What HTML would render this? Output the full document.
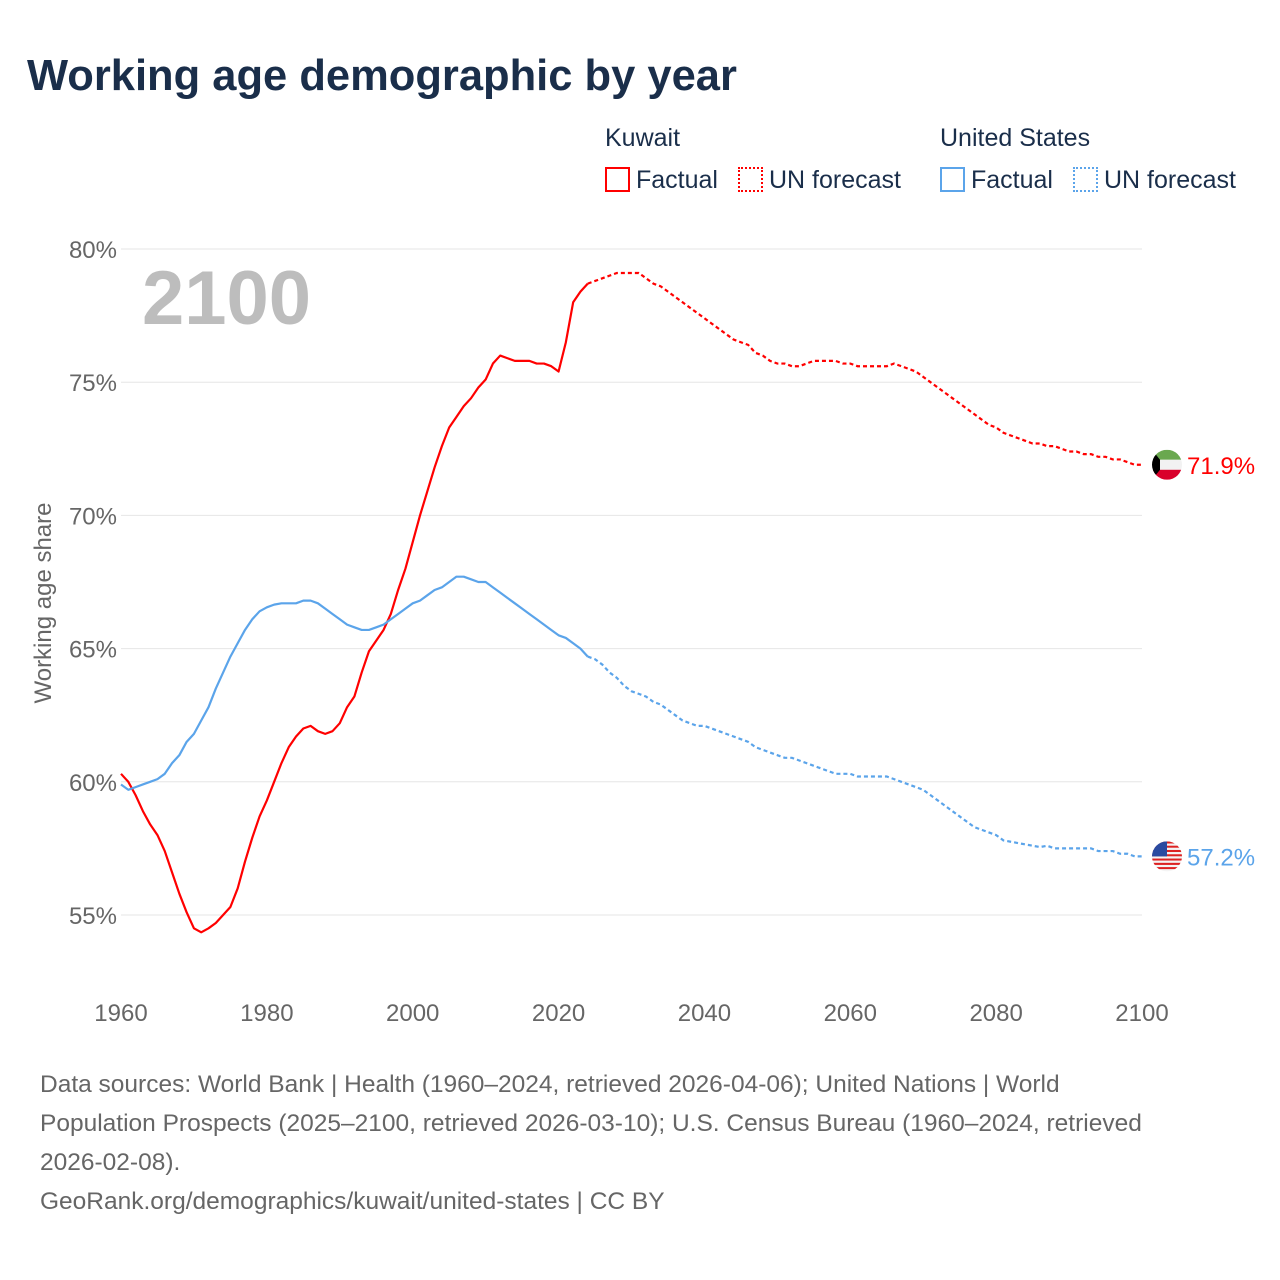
<!DOCTYPE html>
<html><head><meta charset="utf-8"><style>
body{margin:0;background:#fff;font-family:"Liberation Sans",sans-serif;}
#wrap{position:relative;width:1280px;height:1280px;overflow:hidden;}
.t{position:absolute;white-space:nowrap;}
</style></head><body>
<div id="wrap">
<div class="t" style="left:27px;top:52px;font-size:43.5px;font-weight:bold;color:#1a2e4a;">Working age demographic by year</div>
<div class="t" style="left:605px;top:124px;font-size:25px;color:#1a2e4a;">Kuwait</div>
<div class="t" style="left:940px;top:124px;font-size:25px;color:#1a2e4a;">United States</div>
<div class="t" style="left:605px;top:166px;font-size:25px;color:#1a2e4a;"><span style="display:inline-block;width:21px;height:21px;border:2px solid #f00;vertical-align:-4px;margin-right:6px"></span>Factual</div>
<div class="t" style="left:738px;top:166px;font-size:25px;color:#1a2e4a;"><span style="display:inline-block;width:21px;height:21px;border:2px dotted #f00;vertical-align:-4px;margin-right:6px"></span>UN forecast</div>
<div class="t" style="left:940px;top:166px;font-size:25px;color:#1a2e4a;"><span style="display:inline-block;width:21px;height:21px;border:2px solid #5ba4ea;vertical-align:-4px;margin-right:6px"></span>Factual</div>
<div class="t" style="left:1073px;top:166px;font-size:25px;color:#1a2e4a;"><span style="display:inline-block;width:21px;height:21px;border:2px dotted #5ba4ea;vertical-align:-4px;margin-right:6px"></span>UN forecast</div>
<svg id="chart" width="1280" height="1280" style="position:absolute;left:0;top:0"></svg>
<div class="t" style="left:40px;top:1065px;font-size:24.5px;line-height:39px;color:#666;">Data sources: World Bank | Health (1960–2024, retrieved 2026-04-06); United Nations | World<br>Population Prospects (2025–2100, retrieved 2026-03-10); U.S. Census Bureau (1960–2024, retrieved<br>2026-02-08).<br>GeoRank.org/demographics/kuwait/united-states | CC BY</div>
</div>
<script>
const yTicks=[55,60,65,70,75,80];
const xTicks=[1960,1980,2000,2020,2040,2060,2080,2100];
const startYear=1960;
const kuwait=[60.3,60.0,59.5,58.9,58.4,58.0,57.4,56.6,55.8,55.1,54.5,54.35,54.5,54.7,55.0,55.3,56.0,57.0,57.9,58.7,59.3,60.0,60.7,61.3,61.7,62.0,62.1,61.9,61.8,61.9,62.2,62.8,63.2,64.1,64.9,65.3,65.7,66.3,67.2,68.0,69.0,70.0,70.9,71.8,72.6,73.3,73.7,74.1,74.4,74.8,75.1,75.7,76.0,75.9,75.8,75.8,75.8,75.7,75.7,75.6,75.4,76.5,78.0,78.4,78.7,
78.8,78.9,79.0,79.1,79.1,79.1,79.1,78.9,78.7,78.6,78.4,78.2,78.0,77.8,77.6,77.4,77.2,77.0,76.8,76.6,76.5,76.4,76.1,76.0,75.8,75.7,75.7,75.6,75.6,75.7,75.8,75.8,75.8,75.8,75.7,75.7,75.6,75.6,75.6,75.6,75.6,75.7,75.6,75.5,75.4,75.2,75.0,74.8,74.6,74.4,74.2,74.0,73.8,73.6,73.4,73.3,73.1,73.0,72.9,72.8,72.7,72.7,72.6,72.6,72.5,72.4,72.4,72.3,72.3,72.2,72.2,72.1,72.1,72.0,71.9,71.9];
const us=[59.9,59.7,59.8,59.9,60.0,60.1,60.3,60.7,61.0,61.5,61.8,62.3,62.8,63.5,64.1,64.7,65.2,65.7,66.1,66.4,66.55,66.65,66.7,66.7,66.7,66.8,66.8,66.7,66.5,66.3,66.1,65.9,65.8,65.7,65.7,65.8,65.9,66.1,66.3,66.5,66.7,66.8,67.0,67.2,67.3,67.5,67.7,67.7,67.6,67.5,67.5,67.3,67.1,66.9,66.7,66.5,66.3,66.1,65.9,65.7,65.5,65.4,65.2,65.0,64.7,
64.6,64.4,64.1,63.9,63.6,63.4,63.3,63.2,63.0,62.9,62.7,62.5,62.3,62.2,62.1,62.1,62.0,61.9,61.8,61.7,61.6,61.5,61.3,61.2,61.1,61.0,60.9,60.9,60.8,60.7,60.6,60.5,60.4,60.3,60.3,60.3,60.2,60.2,60.2,60.2,60.2,60.1,60.0,59.9,59.8,59.7,59.5,59.3,59.1,58.9,58.7,58.5,58.3,58.2,58.1,58.0,57.8,57.75,57.7,57.65,57.6,57.55,57.6,57.5,57.5,57.5,57.5,57.5,57.5,57.4,57.4,57.4,57.3,57.3,57.2,57.2];
const lastFactualYear=2024;
const NS="http://www.w3.org/2000/svg";
const svg=document.getElementById('chart');
const X=y=>121+(y-1960)*(1021/140);
const Y=v=>915-(v-55)*(666/25);
function el(tag,attrs,parent){const e=document.createElementNS(NS,tag);for(const k in attrs)e.setAttribute(k,attrs[k]);(parent||svg).appendChild(e);return e;}
yTicks.forEach(v=>{
  const g=el('line',{x1:121,x2:1142,y1:Y(v),y2:Y(v),stroke:'#e6e6e6','stroke-width':1});
  
  
  const t=el('text',{x:117,y:Y(v)+9,'text-anchor':'end','font-size':24,fill:'#666','font-family':'Liberation Sans, sans-serif'});
  t.textContent=v+'%';
  
  
});
xTicks.forEach(v=>{
  const t=el('text',{x:X(v),y:1021,'text-anchor':'middle','font-size':24,fill:'#666','font-family':'Liberation Sans, sans-serif'});
  t.textContent=v;
  
  
});
const yt=el('text',{x:0,y:0,transform:'translate(51,603) rotate(-90)','text-anchor':'middle','font-size':24,fill:'#666','font-family':'Liberation Sans, sans-serif'});
yt.textContent='Working age share';


const big=el('text',{x:142,y:324,'font-size':76,'font-weight':'bold',fill:'#bdbdbd','font-family':'Liberation Sans, sans-serif'});
big.textContent='2100';


function draw(data,color,name){
  const n=lastFactualYear-startYear;
  const f=data.slice(0,n+1).map((v,i)=>X(startYear+i)+','+Y(v)).join(' ');
  const p=data.slice(n).map((v,i)=>X(lastFactualYear+i)+','+Y(v)).join(' ');
  const a=el('polyline',{points:f,fill:'none',stroke:color,'stroke-width':2.2,'stroke-linejoin':'round'});
  
  
  const b=el('polyline',{points:p,fill:'none',stroke:color,'stroke-width':2.2,'stroke-dasharray':'4,3'});
  
  
}
draw(kuwait,'#ff0000','kuwait');
draw(us,'#5ba4ea','us');
const kv=kuwait[kuwait.length-1], uv=us[us.length-1];
const ky=Y(kv), uy=Y(uv);
const defs=el('defs',{});
const c1=el('clipPath',{id:'c1'},defs);el('circle',{cx:1167,cy:ky,r:15},c1);
const c2=el('clipPath',{id:'c2'},defs);el('circle',{cx:1167,cy:uy,r:15},c2);
const kf=el('g',{'clip-path':'url(#c1)'});


el('rect',{x:1152,y:ky-15,width:30,height:10,fill:'#6aa84f'},kf);
el('rect',{x:1152,y:ky-5,width:30,height:10,fill:'#f2f2f2'},kf);
el('rect',{x:1152,y:ky+5,width:30,height:10,fill:'#d9002b'},kf);
el('polygon',{points:`1152,${ky-15} 1160,${ky-5} 1160,${ky+5} 1152,${ky+15}`,fill:'#000'},kf);
const uf=el('g',{'clip-path':'url(#c2)'});


for(let i=0;i<7;i++){el('rect',{x:1152,y:uy-15+i*30/7,width:30,height:30/14,fill:'#d22'},uf);el('rect',{x:1152,y:uy-15+i*30/7+30/14,width:30,height:30/14,fill:'#f4f4f4'},uf);}
el('rect',{x:1152,y:uy-15,width:15,height:15,fill:'#2a4aa0'},uf);
const kl=el('text',{x:1187,y:ky+9,'font-size':24,fill:'#ff0000','font-family':'Liberation Sans, sans-serif'});
kl.textContent=kv.toFixed(1)+'%';


const ul=el('text',{x:1187,y:uy+9,'font-size':24,fill:'#5ba4ea','font-family':'Liberation Sans, sans-serif'});
ul.textContent=uv.toFixed(1)+'%';


</script>
</body></html>
